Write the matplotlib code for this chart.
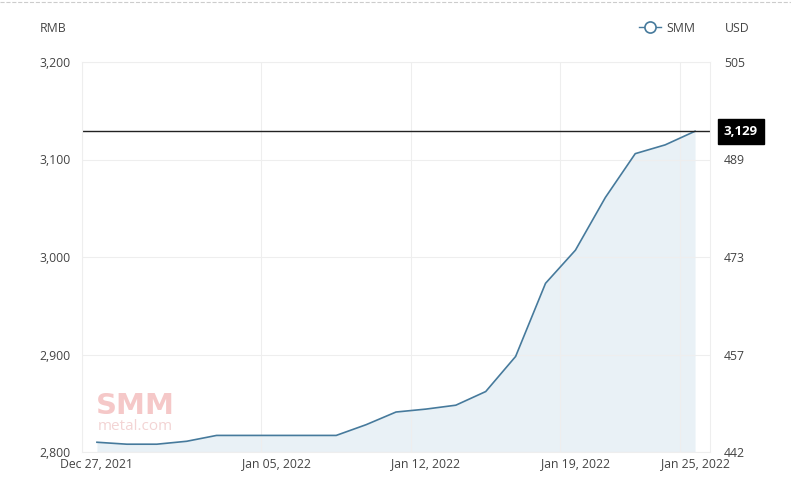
import matplotlib.pyplot as plt
from matplotlib.lines import Line2D

plt.rcParams["font.family"] = ["Open Sans", "DejaVu Sans"]

# trading days, Dec 27 2021 - Jan 25 2022
dates = ["Dec 27, 2021", "Dec 28, 2021", "Dec 29, 2021", "Dec 30, 2021", "Dec 31, 2021",
         "Jan 04, 2022", "Jan 05, 2022", "Jan 06, 2022", "Jan 07, 2022", "Jan 10, 2022",
         "Jan 11, 2022", "Jan 12, 2022", "Jan 13, 2022", "Jan 14, 2022", "Jan 17, 2022",
         "Jan 18, 2022", "Jan 19, 2022", "Jan 20, 2022", "Jan 21, 2022", "Jan 24, 2022",
         "Jan 25, 2022"]
prices = [2810, 2808, 2808, 2811, 2817, 2817, 2817, 2817, 2817, 2828,
          2841, 2844, 2848, 2862, 2898, 2973, 3007, 3061, 3106, 3115, 3129]
label_dates = ["Dec 27, 2021", "Jan 05, 2022", "Jan 12, 2022", "Jan 19, 2022", "Jan 25, 2022"]
rmb_ticks = [2800, 2900, 3000, 3100, 3200]
usd_ticks = [442, 457, 473, 489, 505]
last_price = prices[-1]

line_color = "#467a9c"
fill_color = "#e9f1f6"
grid_color = "#eeeeee"
text_color = "#444444"

fig = plt.figure(figsize=(7.91, 5.04), dpi=100)
ax = fig.add_axes([82 / 791, 1 - 452 / 504, (710 - 82) / 791, (452 - 62) / 504])

x = list(range(len(dates)))
ax.fill_between(x, prices, 2800, color=fill_color, lw=0)
ax.plot(x, prices, color=line_color, lw=1.2)
ax.axhline(last_price, color="#222222", lw=1)

ax.set_xlim(-0.5, len(dates) - 0.5)
ax.set_ylim(2800, 3200)

ax.set_xticks([dates.index(d) for d in label_dates])
ax.set_xticklabels(label_dates)
ax.set_xticks([-0.5, 5.5, 10.5, 15.5, 19.5], minor=True)
ax.set_yticks(rmb_ticks)
ax.set_yticklabels([f"{v:,}" for v in rmb_ticks])

ax.grid(axis="y", color=grid_color, lw=0.8)
ax.grid(axis="x", which="minor", color=grid_color, lw=0.8)
ax.tick_params(axis="both", which="both", length=0, labelsize=8.8, colors=text_color)
ax.tick_params(axis="x", pad=4)
ax.tick_params(axis="y", pad=8)
for s in ax.spines.values():
    s.set_color(grid_color)
    s.set_linewidth(0.8)

ax2 = ax.twinx()
ax2.set_ylim(2800, 3200)
ax2.set_yticks(rmb_ticks)
ax2.set_yticklabels([str(v) for v in usd_ticks])
ax2.tick_params(axis="y", length=0, labelsize=8.8, colors=text_color, pad=10)
for s in ax2.spines.values():
    s.set_visible(False)

# last value marker on the right
ax.annotate(f"{last_price:,}", xy=(1.0, last_price), xycoords=("axes fraction", "data"),
            xytext=(10, 0), textcoords="offset points", ha="left", va="center",
            fontsize=9.5, color="white", fontweight="bold",
            bbox=dict(boxstyle="square,pad=0.45", fc="black", ec="black"))

fig.text(40 / 791, 1 - 29 / 504, "RMB", fontsize=8.8, color=text_color, va="center")
fig.text(725 / 791, 1 - 29 / 504, "USD", fontsize=8.8, color=text_color, va="center")

handle = Line2D([], [], color=line_color, lw=1, marker="o", ms=8, mfc="white", mew=1.2)
fig.legend([handle], ["SMM"], loc="center", bbox_to_anchor=(667 / 791, 1 - 28 / 504),
           frameon=False, fontsize=8.8, handlelength=1.8, handletextpad=0.4,
           labelcolor=text_color)

# watermark
fig.text(135 / 791, 1 - 406 / 504, "SMM", fontsize=21, fontweight="heavy", color="#f5c8c8",
         ha="center", va="center", family="DejaVu Sans")
fig.text(135 / 791, 1 - 426 / 504, "metal.com", fontsize=11, color="#f3d4d4",
         ha="center", va="center")

fig.add_artist(Line2D([0, 1], [1 - 2 / 504, 1 - 2 / 504], transform=fig.transFigure,
                      ls="--", color="#cccccc", lw=0.8))

fig.savefig("out.png", dpi=100)
